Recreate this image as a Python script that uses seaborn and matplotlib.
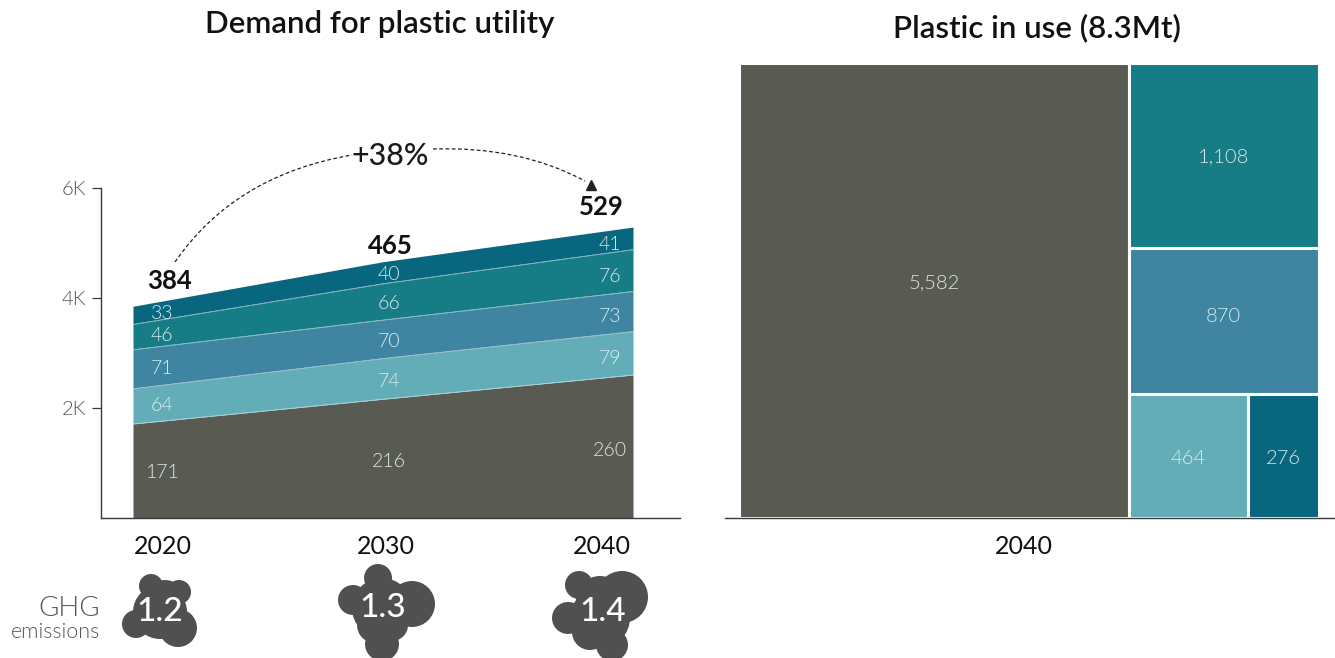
import numpy as np
import pandas as pd
import matplotlib
matplotlib.use("Agg")
import matplotlib.pyplot as plt
import seaborn as sns
from matplotlib.patches import Rectangle, Ellipse, PathPatch
from matplotlib.path import Path

# Data
years = [2020, 2030, 2040]
layer_names = ["grey", "light", "blue", "teal", "dark"]
layer_grey = [171, 216, 260]
layer_light = [64, 74, 79]
layer_blue = [71, 70, 73]
layer_teal = [46, 66, 76]
layer_dark = [33, 40, 41]
totals = [384, 465, 529]
ghg = [1.2, 1.3, 1.4]
y_ticks = [2000, 4000, 6000]
y_tick_labels = ["2K", "4K", "6K"]
treemap_values = [5582, 1108, 870, 464, 276]
treemap_labels = ["5,582", "1,108", "870", "464", "276"]

colors = ["#595A52", "#62ADB8", "#3F85A2", "#167C85", "#09667F"]
treemap_colors = ["#595A52", "#167C85", "#3F85A2", "#62ADB8", "#09667F"]
label_color = "#D9EDEF"
axis_color = "#3A3A3A"
cloud_color = "#505050"

W, H = 1335, 658

sns.set_theme(style="white")
plt.rcParams["font.family"] = ["Lato", "DejaVu Sans"]

fig = plt.figure(figsize=(W / 100, H / 100), dpi=100)


def px_axes(x0, x1, y_top, y_bottom):
    return fig.add_axes([x0 / W, 1 - y_bottom / H, (x1 - x0) / W, (y_bottom - y_top) / H])


# Stacked area
ax = px_axes(101, 680, 64, 518)
layers = np.array([layer_grey, layer_light, layer_blue, layer_teal, layer_dark]) * 10
ax.stackplot(years, layers, colors=colors, linewidth=0)
tops = np.cumsum(layers, axis=0)
for i in range(len(layer_names) - 1):
    df = pd.DataFrame({"year": years, "top": tops[i]})
    sns.lineplot(data=df, x="year", y="top", ax=ax, color="#CFE6EA", linewidth=0.4, legend=False)

ax.set_xlim(2020 - 32 / 25, 2040 + 47 / 25)
ax.set_ylim(0, 454 / 55 * 1000)
ax.set_xticks([])
ax.set_yticks(y_ticks)
ax.set_yticklabels(y_tick_labels, fontsize=14.5, fontweight=300, color="#555555")
ax.tick_params(axis="y", left=True, length=6.5, width=0.9, color=axis_color, pad=4)
ax.set_xlabel("")
ax.set_ylabel("")
sns.despine(ax=ax)
ax.spines["left"].set_bounds(0, 6000)
for s in ["left", "bottom"]:
    ax.spines[s].set_color(axis_color)
    ax.spines[s].set_linewidth(1.0)

# band labels sit in the middle of each band, a bit off the year
label_years = [2021.16, 2030.24, 2039.08]
bases = np.vstack([np.zeros(3), tops[:-1]])
for lx in label_years:
    for i in range(len(layer_names)):
        lo = np.interp(lx, years, bases[i])
        hi = np.interp(lx, years, tops[i])
        near = int(np.argmin(np.abs(np.array(years) - lx)))
        ax.annotate(str(int(layers[i][near] / 10)), (lx, (lo + hi) / 2), xytext=(0, -2),
                    textcoords="offset points", ha="center", va="center",
                    fontsize=14, fontweight=300, color=label_color)

# Treemap, slice layout computed from the values
ax2 = px_axes(725, 1335, 62.5, 518)
total = sum(treemap_values)
first = treemap_values[0] / total
rest = sum(treemap_values[1:])
bottom_pair = treemap_values[3] + treemap_values[4]
h1 = treemap_values[1] / rest
h2 = treemap_values[2] / rest
h3 = bottom_pair / rest
w3 = treemap_values[3] / bottom_pair
rects = [
    (0, 0, first, 1),
    (first, 1 - h1, 1 - first, h1),
    (first, h3, 1 - first, h2),
    (first, 0, (1 - first) * w3, h3),
    (first + (1 - first) * w3, 0, (1 - first) * (1 - w3), h3),
]
label_nudge = [5, -1, 3, -2, -2]
for (rx, ry, rw, rh), c, lab, nudge in zip(rects, treemap_colors, treemap_labels, label_nudge):
    ax2.add_patch(Rectangle((rx, ry), rw, rh, facecolor=c, edgecolor="white", linewidth=2.2))
    ax2.annotate(lab, (rx + rw / 2, ry + rh / 2), xytext=(0, nudge), textcoords="offset points",
                 ha="center", va="center", fontsize=14.5, fontweight=300, color=label_color)
ax2.set_xlim(-14 / 579.5, 1 + 16.5 / 579.5)
ax2.set_ylim(0, 1)
ax2.set_xticks([])
ax2.set_yticks([])
sns.despine(ax=ax2, left=True)
ax2.spines["bottom"].set_color(axis_color)
ax2.spines["bottom"].set_linewidth(1.0)
ax2.spines["bottom"].set_zorder(5)

# Overlay in pixel coordinates for titles, arc and clouds
ov = fig.add_axes([0, 0, 1, 1])
ov.set_xlim(0, W)
ov.set_ylim(H, 0)
ov.axis("off")
ov.patch.set_alpha(0)

ov.text(380, 24, "Demand for plastic utility", ha="center", va="center", fontsize=22.5, fontweight=600, color="#111111")
ov.text(1037, 28, "Plastic in use (8.3Mt)", ha="center", va="center", fontsize=22.5, fontweight=600, color="#111111")
ov.text(1024, 547, "2040", ha="center", va="center", fontsize=18, color="#111111")

for yr, x in zip(years, [163, 386, 602]):
    ov.text(x, 547, str(yr), ha="center", va="center", fontsize=18, color="#111111")
for t, (x, y) in zip(totals, [(170, 281), (390, 246), (601, 207)]):
    ov.text(x, y, str(t), ha="center", va="center", fontsize=18.5, fontweight="bold", color="#111111")

ov.text(390, 156, "+38%", ha="center", va="center", fontsize=22, fontweight=500, color="#1A1A1A")
arc1 = Path([(175, 262), (235, 175), (352, 155)], [Path.MOVETO, Path.CURVE3, Path.CURVE3])
arc2 = Path([(433, 149), (520, 146), (585, 181)], [Path.MOVETO, Path.CURVE3, Path.CURVE3])
for p in [arc1, arc2]:
    ov.add_patch(PathPatch(p, facecolor="none", edgecolor="#222222", linewidth=0.9, linestyle=(0, (3, 2))))
ov.plot([591], [185], marker="^", markersize=7, color="#222222", linestyle="none")

# GHG clouds
clouds = [
    [(151, 586, 12), (179, 592, 12), (160, 612, 27), (165, 600, 20), (136, 624, 14), (178, 628, 19)],
    [(378, 578, 14), (353, 600, 15), (412, 604, 23), (382, 608, 30), (375, 625, 18), (392, 625, 16), (382, 644, 17)],
    [(579, 585, 14), (622, 597, 26), (568, 618, 16), (600, 618, 30), (600, 600, 24), (590, 632, 18), (612, 645, 16)],
]
cloud_label_pos = [(160, 612), (383, 608), (603, 612)]
for blobs, v, (tx, ty) in zip(clouds, ghg, cloud_label_pos):
    for bx, by, r in blobs:
        ov.add_patch(Ellipse((bx, by), 2 * r, 2 * r, facecolor=cloud_color, edgecolor="none"))
    ov.text(tx, ty, f"{v:.1f}", ha="center", va="center", fontsize=24, fontweight=500, color="white")

ov.text(100, 609, "GHG", ha="right", va="center", fontsize=20, fontweight=300, color="#555555")
ov.text(100, 632, "emissions", ha="right", va="center", fontsize=15.5, fontweight=300, color="#555555")

fig.savefig("out.png", dpi=100)
